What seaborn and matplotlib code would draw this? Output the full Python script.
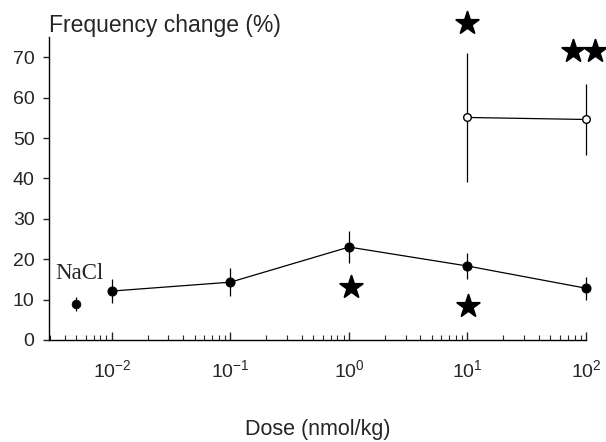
import numpy as np
import pandas as pd
import matplotlib
matplotlib.use("Agg")
import matplotlib.pyplot as plt
import seaborn as sns

# ---- data ----
dose_closed = [0.01, 0.1, 1.0, 10.0, 100.0]
freq_closed = [12.1, 14.3, 23.0, 18.3, 12.8]
err_closed = [3.0, 3.4, 4.0, 3.3, 2.8]

dose_open = [10.0, 100.0]
freq_open = [55.1, 54.6]
err_open = [16.0, 8.7]

nacl_dose = [0.005]
nacl_freq = [8.9]
nacl_err = [1.7]

star_x = [10.0, 77.6, 119.0, 1.04, 10.2]
star_y = [78.5, 71.6, 71.6, 13.1, 8.4]

xtick_vals = [0.01, 0.1, 1, 10, 100]
xtick_labels = [r"$\mathregular{10^{-2}}$", r"$\mathregular{10^{-1}}$", r"$\mathregular{10^{0}}$",
                r"$\mathregular{10^{1}}$", r"$\mathregular{10^{2}}$"]
ytick_vals = [0, 10, 20, 30, 40, 50, 60, 70]

sns.set_style("ticks")
plt.rcParams['font.family'] = ['Liberation Sans', 'DejaVu Sans']

fig = plt.figure(figsize=(6.06, 4.42), dpi=100)
ax = fig.add_axes([0.081, 0.231, 0.886, 0.685])

df_c = pd.DataFrame({"dose": dose_closed, "freq": freq_closed})
df_o = pd.DataFrame({"dose": dose_open, "freq": freq_open})

ax.errorbar(dose_closed, freq_closed, yerr=err_closed, fmt='none', ecolor='black',
            elinewidth=0.9, capsize=0, clip_on=False)
ax.errorbar(dose_open, freq_open, yerr=err_open, fmt='none', ecolor='black',
            elinewidth=0.9, capsize=0, clip_on=False)
ax.errorbar(nacl_dose, nacl_freq, yerr=nacl_err, fmt='none', ecolor='black',
            elinewidth=0.9, capsize=0, clip_on=False)

sns.lineplot(data=df_c, x="dose", y="freq", ax=ax, color='black', linewidth=0.9,
             marker='o', markersize=6.5, markerfacecolor='black', markeredgecolor='black',
             clip_on=False)
sns.lineplot(data=df_o, x="dose", y="freq", ax=ax, color='black', linewidth=0.9,
             marker='o', markersize=5.5, markerfacecolor='white', markeredgecolor='black',
             markeredgewidth=1.0, clip_on=False)
sns.scatterplot(x=nacl_dose, y=nacl_freq, ax=ax, color='black', s=40, edgecolor='black',
                clip_on=False)
sns.scatterplot(x=star_x, y=star_y, ax=ax, color='black', marker='*', s=290,
                edgecolor='black', clip_on=False, zorder=5)

ax.set_xscale('log')
ax.set_xlim(10 ** -2.53, 100)
ax.set_ylim(0, 75)
ax.set_xticks(xtick_vals)
ax.set_xticklabels(xtick_labels, fontsize=14)
ax.set_yticks(ytick_vals)
ax.set_yticklabels([str(v) for v in ytick_vals], fontsize=14)
ax.xaxis.set_minor_locator(matplotlib.ticker.LogLocator(base=10, subs=np.arange(2, 10)))
ax.xaxis.set_minor_formatter(matplotlib.ticker.NullFormatter())
ax.tick_params(axis='x', which='major', direction='in', length=6, width=1, pad=14)
ax.tick_params(axis='x', which='minor', direction='in', length=3.5, width=0.8)
ax.tick_params(axis='y', which='major', direction='out', length=4.5, width=1, pad=6)
ax.set_xlabel("Dose (nmol/kg)", fontsize=15.5, labelpad=27)
ax.set_ylabel("")
sns.despine(ax=ax)
for s in ['left', 'bottom']:
    ax.spines[s].set_linewidth(1.0)
    ax.spines[s].set_color('black')

ax.text(0.0033, 16.5, "NaCl", family=['Liberation Serif'], fontsize=16.5,
        ha='left', va='center')
fig.text(0.081, 0.942, "Frequency change (%)", fontsize=16.5, ha='left', va='center')

fig.savefig("out.png", dpi=100)
